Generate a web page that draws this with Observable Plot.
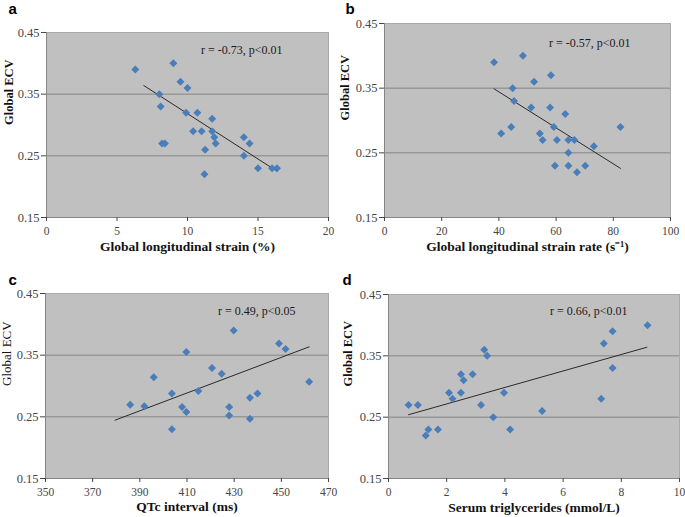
<!DOCTYPE html>
<html><head><meta charset="utf-8">
<script src="https://cdn.jsdelivr.net/npm/d3@7"></script>
<script src="https://cdn.jsdelivr.net/npm/@observablehq/plot@0.6"></script>
<style>
body{margin:0;background:#fff;}
#root{position:relative;width:685px;height:517px;overflow:hidden;background:#fff;}
#root svg{position:absolute;overflow:visible;}
</style></head><body><div id="root"></div>
<script>
// Shared y axis
const yDomain = [0.15, 0.45];
const yTicks = [0.15, 0.25, 0.35, 0.45];
const gridY = [0.25, 0.35];

// Panel a: Global longitudinal strain (%)
const aX = [6.3, 9.0, 9.5, 10.0, 8.0, 8.1, 9.9, 10.7, 11.75, 10.4, 11.0, 11.75, 11.9, 12.0, 8.2, 8.4, 11.25, 11.2, 14.0, 14.4, 14.0, 15.0, 16.0, 16.35];
const aY = [0.39, 0.40, 0.37, 0.36, 0.35, 0.33, 0.32, 0.32, 0.31, 0.29, 0.29, 0.29, 0.28, 0.27, 0.27, 0.27, 0.26, 0.22, 0.28, 0.27, 0.25, 0.23, 0.23, 0.23];
const aTicks = [0, 5, 10, 15, 20];
const aTrendX = [6.9, 16.35];
const aTrendY = [0.364, 0.225];

// Panel b: Global longitudinal strain rate (s-1)
const bX = [38.3, 48.4, 58.2, 52.3, 44.8, 45.3, 51.3, 57.9, 63.2, 44.3, 40.8, 54.3, 55.3, 59.2, 60.3, 64.3, 66.4, 64.3, 73.2, 82.5, 59.6, 64.3, 70.2, 67.3];
const bY = [0.39, 0.40, 0.37, 0.36, 0.35, 0.33, 0.32, 0.32, 0.31, 0.29, 0.28, 0.28, 0.27, 0.29, 0.27, 0.27, 0.27, 0.25, 0.26, 0.29, 0.23, 0.23, 0.23, 0.22];
const bTicks = [0, 20, 40, 60, 80, 100];
const bTrendX = [38.3, 82.5];
const bTrendY = [0.349, 0.226];

// Panel c: QTc interval (ms)
const cX = [385.9, 391.9, 395.9, 403.6, 403.6, 407.9, 409.7, 409.7, 414.8, 420.6, 424.7, 429.8, 427.9, 427.9, 436.7, 436.7, 439.9, 449.0, 451.8, 461.8];
const cY = [0.2695, 0.267, 0.314, 0.288, 0.23, 0.266, 0.258, 0.355, 0.292, 0.329, 0.320, 0.39, 0.266, 0.252, 0.281, 0.247, 0.288, 0.369, 0.360, 0.307];
const cTicks = [350, 370, 390, 410, 430, 450, 470];
const cTrendX = [379.5, 461.8];
const cTrendY = [0.2446, 0.3635];

// Panel d: Serum triglycerides (mmol/L)
const dX = [0.69, 1.01, 1.28, 1.37, 1.70, 2.08, 2.20, 2.49, 2.49, 2.58, 2.89, 3.18, 3.29, 3.39, 3.60, 3.97, 4.18, 5.28, 7.31, 7.40, 7.70, 7.70, 8.90];
const dY = [0.27, 0.27, 0.22, 0.23, 0.23, 0.29, 0.28, 0.29, 0.32, 0.31, 0.32, 0.27, 0.36, 0.35, 0.25, 0.29, 0.23, 0.26, 0.28, 0.37, 0.39, 0.33, 0.40];
const dTicks = [0, 2, 4, 6, 8, 10];
const dTrendX = [0.69, 8.88];
const dTrendY = [0.254, 0.364];

const serif = "'Liberation Serif','Times New Roman',serif";

function panel(o) {
  const pts = o.xs.map((x, i) => ({x, y: o.ys[i]}));
  const trend = o.tx.map((x, i) => ({x, y: o.ty[i]}));
  const chart = Plot.plot({
    width: o.w, height: o.h,
    marginLeft: o.ml, marginRight: o.mr, marginTop: o.mt, marginBottom: o.mb,
    style: {fontFamily: serif, fontSize: "11px", color: "#454545", background: "transparent"},
    x: {domain: [o.ticks[0], o.ticks[o.ticks.length - 1]]},
    y: {domain: yDomain},
    marks: [
      Plot.frame({fill: "#c0c0c0", stroke: "#a9a9a9"}),
      Plot.ruleY(gridY, {stroke: "#858585", strokeWidth: 1}),
      Plot.ruleY([yDomain[0]], {stroke: "#858585"}),
      Plot.ruleX([o.ticks[0]], {stroke: "#858585"}),
      Plot.axisX({ticks: o.ticks, tickSize: 4, tickPadding: 5, label: null, fontSize: 11.5, tickFormat: d => String(d)}),
      Plot.axisY({ticks: yTicks, tickSize: 5, tickPadding: 2, label: null, fontSize: 12.5, tickFormat: d3.format(".2f")}),
      Plot.line(trend, {x: "x", y: "y", stroke: "#2a2a2a", strokeWidth: 1}),
      Plot.dot(pts, {x: "x", y: "y", symbol: "diamond2", r: 3.6, fill: "#4a7ebb", stroke: "none"}),
      Plot.text([o.note], {frameAnchor: "top-right", dx: o.ndx, dy: o.ndy, textAnchor: "end", lineAnchor: "middle", fontSize: 12, fill: "#1a1a1a"}),
      Plot.text([o.xTitle], {frameAnchor: "bottom", dy: o.tdy, lineAnchor: "bottom", fontSize: 13.5, fontWeight: "bold", fill: "#111"}),
      Plot.text([o.yTitle], {frameAnchor: "left", dx: o.ydx, rotate: -90, lineAnchor: "middle", fontSize: o.yBold ? 12.5 : 13, fontWeight: o.yBold ? "bold" : "normal", fill: "#111"}),
      Plot.text([o.letter], {frameAnchor: "top-left", dx: o.ldx, dy: o.ldy, textAnchor: "start", lineAnchor: "bottom", fontSize: 15, fontWeight: "bold", fontFamily: "'Liberation Sans',Arial,sans-serif", fill: "#000"})
    ]
  });
  chart.style.left = o.left + "px";
  chart.style.top = o.top + "px";
  document.getElementById("root").appendChild(chart);
}

panel({letter: "a", xs: aX, ys: aY, ticks: aTicks, tx: aTrendX, ty: aTrendY,
  note: "r = -0.73, p<0.01", xTitle: "Global longitudinal strain (%)", yTitle: "Global ECV", yBold: true,
  left: 0, top: 0, w: 340, h: 258, ml: 46, mr: 12, mt: 32, mb: 41,
  ndx: -46, ndy: 18, tdy: 33, ydx: -38, ldx: -38, ldy: -18.5});

panel({letter: "b", xs: bX, ys: bY, ticks: bTicks, tx: bTrendX, ty: bTrendY,
  note: "r = -0.57, p<0.01", xTitle: "Global longitudinal strain rate (s\u207B\u00B9)", yTitle: "Global ECV", yBold: true,
  left: 340, top: 0, w: 345, h: 258, ml: 44, mr: 15, mt: 23, mb: 41,
  ndx: -40, ndy: 20, tdy: 33, ydx: -40, ldx: -39, ldy: -9.5});

panel({letter: "c", xs: cX, ys: cY, ticks: cTicks, tx: cTrendX, ty: cTrendY,
  note: "r = 0.49, p<0.05", xTitle: "QTc interval (ms)", yTitle: "Global ECV", yBold: false,
  left: 0, top: 258, w: 340, h: 259, ml: 45, mr: 12, mt: 35, mb: 39,
  ndx: -33, ndy: 18, tdy: 32, ydx: -39, ldx: -37, ldy: -8.5});

panel({letter: "d", xs: dX, ys: dY, ticks: dTicks, tx: dTrendX, ty: dTrendY,
  note: "r = 0.66, p<0.01", xTitle: "Serum triglycerides (mmol/L)", yTitle: "Global ECV", yBold: true,
  left: 340, top: 258, w: 345, h: 259, ml: 48, mr: 6, mt: 36, mb: 39,
  ndx: -52, ndy: 17, tdy: 33, ydx: -41, ldx: -46, ldy: -9.5});
</script>
</body></html>
